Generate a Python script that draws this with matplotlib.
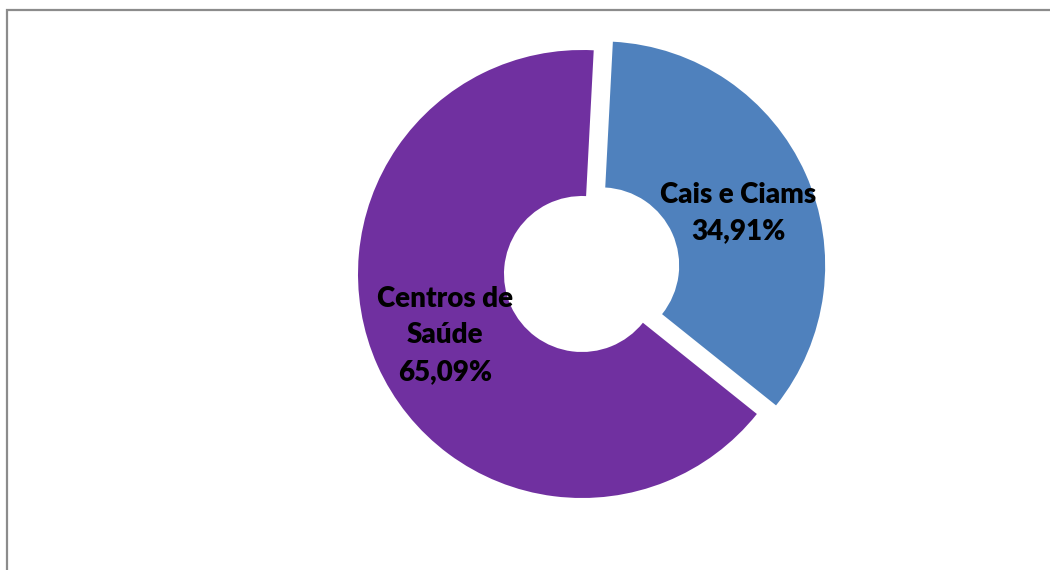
import matplotlib.pyplot as plt
from matplotlib.patches import Rectangle

# dados do gráfico
categorias = ["Cais e Ciams", "Centros de\nSaúde"]
valores = [34.91, 65.09]
cores = ["#4F81BD", "#7030A0"]
explodir = [21, 0]

fig = plt.figure(figsize=(10.5, 5.7), dpi=100)
ax = fig.add_axes([0, 0, 1, 1])

nomes = iter(categorias)


def rotulo(pct):
    return next(nomes) + "\n" + f"{pct:.2f}".replace(".", ",") + "%"


wedges, textos, autotextos = ax.pie(
    valores, colors=cores, explode=explodir, startangle=87, counterclock=False,
    center=(582, 296), radius=224, frame=True,
    wedgeprops=dict(width=146, linewidth=0),
    autopct=rotulo, pctdistance=0.67,
    textprops=dict(fontsize=20, fontweight=800, family="Lato",
                   color="black", linespacing=1.5),
)
# rótulo azul um pouco mais baixo, como no original
x, y = autotextos[0].get_position()
autotextos[0].set_position((x, y - 9))

ax.set_xlim(0, 1050)
ax.set_ylim(0, 570)
ax.set_aspect("equal")
ax.axis("off")

# moldura da área do gráfico
fig.patches.append(Rectangle((7 / 1050, -0.1), 1.2, 1 - 10.5 / 570 + 0.1,
                             transform=fig.transFigure, fill=False,
                             edgecolor="#8c8c8c", linewidth=1.6))

fig.savefig("out.png", dpi=100)
